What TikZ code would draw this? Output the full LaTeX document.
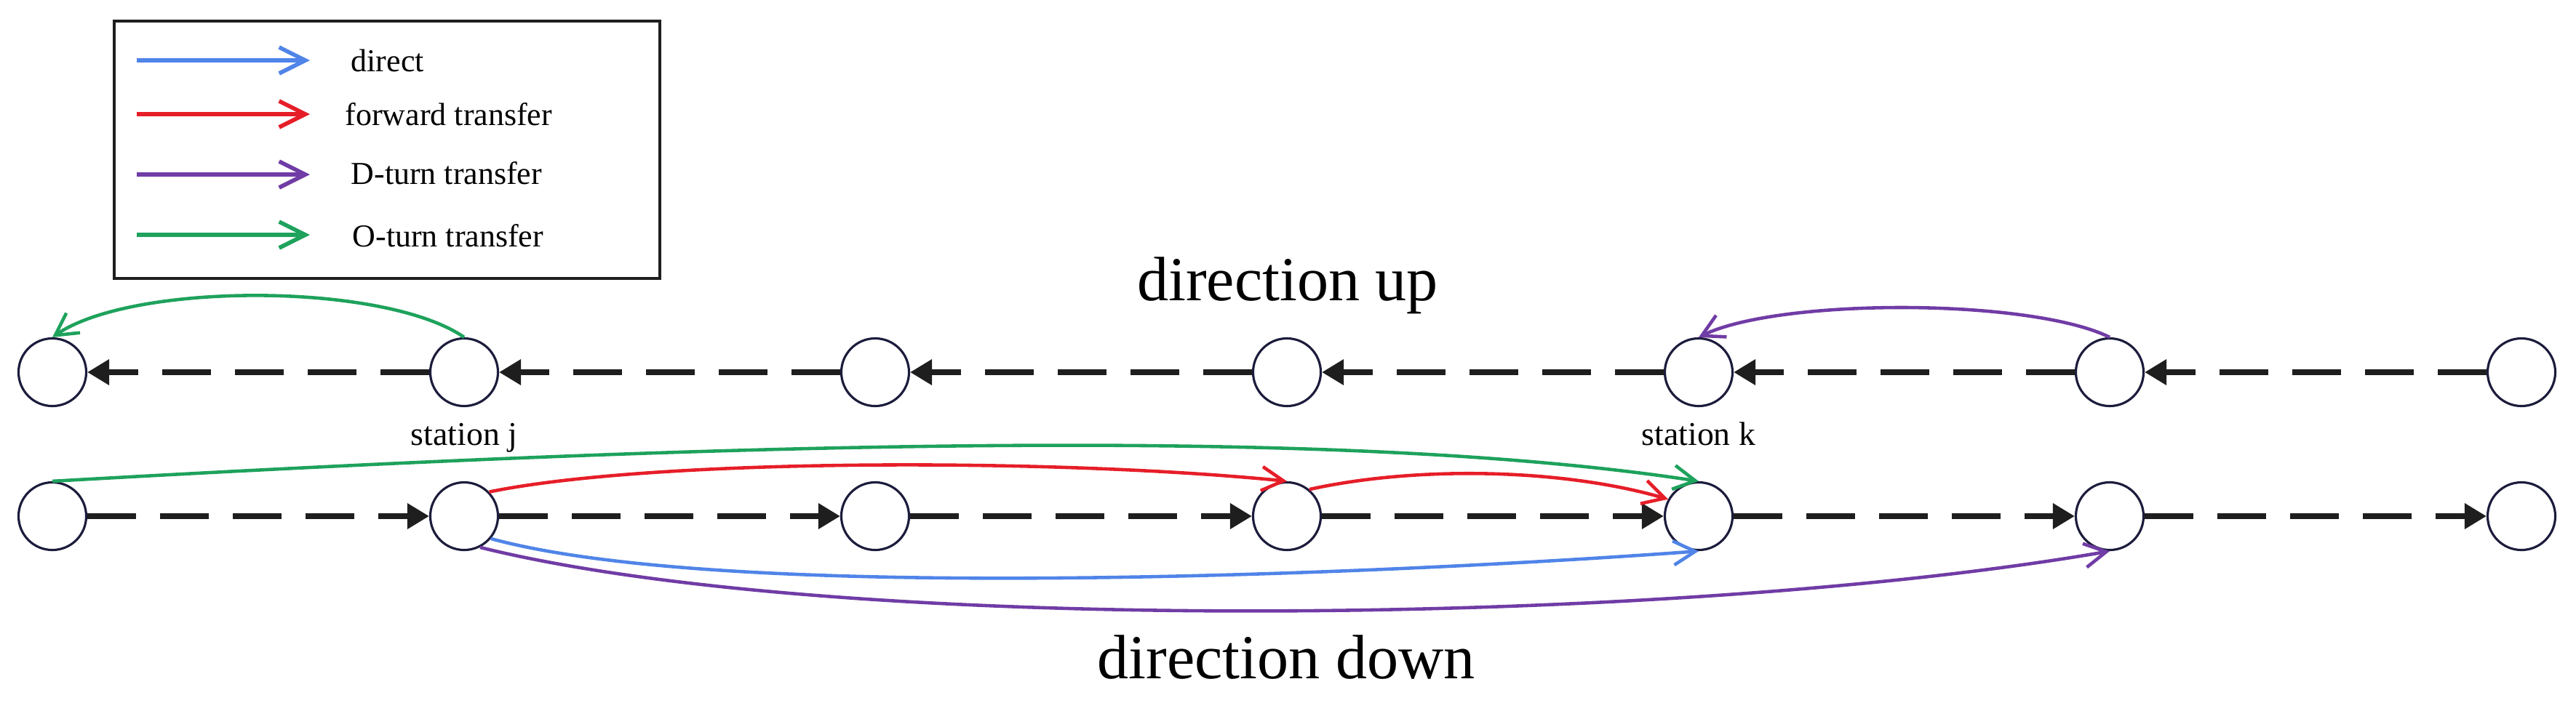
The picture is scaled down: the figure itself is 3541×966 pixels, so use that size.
\documentclass[tikz,border=0pt]{standalone}
\usepackage{fontspec}
\setmainfont{Liberation Serif}
\usetikzlibrary{arrows.meta}
\definecolor{cblue}{RGB}{80,132,232}
\definecolor{cred}{RGB}{230,30,40}
\definecolor{cpurple}{RGB}{112,60,165}
\definecolor{cgreen}{RGB}{30,162,92}
\definecolor{cnode}{RGB}{28,28,60}
\definecolor{cline}{RGB}{30,30,30}
\tikzset{
  station/.style={circle,draw=cnode,line width=0.9pt,fill=white,minimum size=0.93cm,inner sep=0pt},
  track/.style={draw=cline,line width=2pt,dash pattern=on 0.67cm off 0.33cm,-{Triangle[length=0.3cm,width=0.34cm]}},
  flow/.style={line width=1.3pt,-{Straight Barb[length=0.3cm,width=0.33cm]}},
  legarrow/.style={line width=1.6pt,-{Straight Barb[length=0.36cm,width=0.36cm]}},
  legtext/.style={anchor=base west,inner sep=0pt,font=\fontsize{12.5}{14}\selectfont},
  stlabel/.style={anchor=base,inner sep=0pt,font=\fontsize{13}{15}\selectfont},
  dirlabel/.style={anchor=base,inner sep=0pt,font=\fontsize{24.5}{28}\selectfont}
}
\begin{document}
\begin{tikzpicture}[x=0.01cm,y=-0.01cm]
\useasboundingbox (0,0) rectangle (3541,966);
% legend
\node[draw=cline,line width=1pt,minimum width=7.5cm,minimum height=3.54cm,inner sep=0pt,anchor=north west] (leg) at (155,27) {};
\coordinate (la1) at (188,83);  \coordinate (lb1) at (426,83);
\coordinate (la2) at (188,157); \coordinate (lb2) at (426,157);
\coordinate (la3) at (188,240); \coordinate (lb3) at (426,240);
\coordinate (la4) at (188,323); \coordinate (lb4) at (426,323);
\draw[legarrow,cblue] (la1) -- (lb1);
\draw[legarrow,cred] (la2) -- (lb2);
\draw[legarrow,cpurple] (la3) -- (lb3);
\draw[legarrow,cgreen] (la4) -- (lb4);
\node[legtext] (lt1) at (482,98) {direct};
\node[legtext] (lt2) at (474,172) {forward transfer};
\node[legtext] (lt3) at (482,253) {D-turn transfer};
\node[legtext] (lt4) at (484,339) {O-turn transfer};
% stations
\foreach \i/\x in {1/72,2/638,3/1203,4/1769,5/2335,6/2900,7/3466}{
  \node[station] (t\i) at (\x,512) {};
  \node[station] (b\i) at (\x,710) {};
}
% tracks
\foreach \i/\j in {1/2,2/3,3/4,4/5,5/6,6/7}{
  \draw[track] (t\j.west) -- (t\i.east);
  \draw[track] (b\i.east) -- (b\j.west);
}
% labels
\node[dirlabel] (up) at (1770,413) {direction up};
\node[dirlabel] (down) at (1768,933) {direction down};
\node[stlabel] (sj) at (638,612) {station j};
\node[stlabel] (sk) at (2335,612) {station k};
% transfers
\draw[flow,cgreen] (t2.north) .. controls +(-110,-76) and +(110,-76) .. (t1.north);
\draw[flow,cpurple] (t6.north) .. controls +(-110,-54) and +(110,-54) .. (t5.north);
\draw[flow,cgreen] (b1.north) .. controls (900,615) and (1800,580) .. (b5.north);
\draw[flow,cred] (b2.44) .. controls (900,630) and (1450,630) .. (b4.north);
\draw[flow,cred] (b4.50) .. controls (1950,640) and (2150,645) .. (b5.151);
\draw[flow,cblue] (b2.-40) .. controls (1000,830) and (1900,790) .. (b5.south);
\draw[flow,cpurple] (b2.-63) .. controls (1150,875) and (2300,862) .. (b6.south);
\end{tikzpicture}
\end{document}
